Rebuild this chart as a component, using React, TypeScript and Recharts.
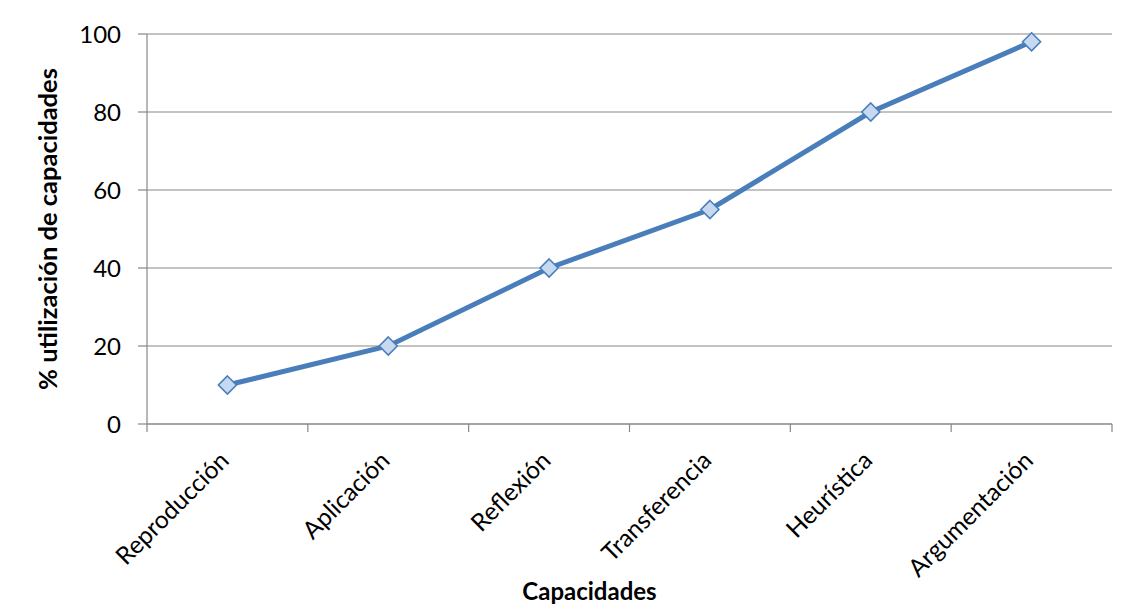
import React from 'react';
import { LineChart, Line, XAxis, YAxis, CartesianGrid, Label } from 'recharts';

const categories = ['Reproducción', 'Aplicación', 'Reflexión', 'Transferencia', 'Heurística', 'Argumentación'];
const values = [10, 20, 40, 55, 80, 98];
const yTicks = [0, 20, 40, 60, 80, 100];

const data = categories.map((name, i) => ({ name, value: values[i] }));

const FONT = 'Lato, "Open Sans", sans-serif';
const GRAY = '#878787';
const LINE = '#4a7ebb';

const Diamond = (props: any) => {
  const { cx, cy } = props;
  if (cx == null || cy == null) return null;
  const r = 9;
  return (
    <polygon
      points={`${cx},${cy - r} ${cx + r},${cy} ${cx},${cy + r} ${cx - r},${cy}`}
      fill="#c6d9f1"
      stroke={LINE}
      strokeWidth={1.6}
    />
  );
};

const XTick = (props: any) => {
  const { x, y, payload, index } = props;
  const half = payload && typeof payload.offset === 'number' ? payload.offset : 0;
  const isLast = index === categories.length - 1;
  return (
    <g>
      <line x1={x - half} x2={x - half} y1={y} y2={y + 8} stroke={GRAY} strokeWidth={1.2} />
      {isLast && <line x1={x + half} x2={x + half} y1={y} y2={y + 8} stroke={GRAY} strokeWidth={1.2} />}
      <text
        transform={`translate(${x + 3},${y + 38}) rotate(-45)`}
        textAnchor="end"
        fontFamily={FONT}
        fontSize={24.5}
        fill="#000"
      >
        {payload.value}
      </text>
    </g>
  );
};

const YTitle = (props: any) => {
  const { viewBox } = props;
  const x = viewBox.x + 39;
  const y = viewBox.y + viewBox.height / 2;
  return (
    <text
      x={x}
      y={y}
      transform={`rotate(-90, ${x}, ${y})`}
      textAnchor="middle"
      dominantBaseline="central"
      fontFamily={FONT}
      fontSize={25.5}
      fontWeight="bold"
      fill="#000"
    >
      % utilización de capacidades
    </text>
  );
};

const XTitle = (props: any) => {
  const { viewBox } = props;
  const x = viewBox.x + viewBox.width / 2 - 40;
  const y = viewBox.y + viewBox.height - 14;
  return (
    <text x={x} y={y} textAnchor="middle" fontFamily={FONT} fontSize={24} fontWeight="bold" fill="#000">
      Capacidades
    </text>
  );
};

export default function App() {
  return (
    <div style={{ position: 'relative', width: 1124, height: 606 }}>
      <div
        style={{
          position: 'absolute',
          left: -1,
          top: -1,
          width: 1125,
          height: 607,
          borderTop: `1px solid ${GRAY}`,
          borderLeft: `1px solid ${GRAY}`,
          boxSizing: 'border-box',
          pointerEvents: 'none',
        }}
      />
      <LineChart width={1124} height={606} data={data} margin={{ top: 26, right: 20, left: 0, bottom: 0 }}>
        <CartesianGrid vertical={false} stroke={GRAY} strokeWidth={1.2} />
        <XAxis
          dataKey="name"
          scale="band"
          height={190}
          axisLine={{ stroke: GRAY, strokeWidth: 1.2 }}
          tickLine={false}
          tickSize={0}
          tickMargin={0}
          interval={0}
          tick={<XTick />}
        >
          <Label content={<XTitle />} />
        </XAxis>
        <YAxis
          width={139}
          domain={[0, 100]}
          ticks={yTicks}
          tickSize={9}
          tickMargin={17}
          axisLine={{ stroke: GRAY, strokeWidth: 1.2 }}
          tickLine={{ stroke: GRAY, strokeWidth: 1.2 }}
          tick={{ fontFamily: FONT, fontSize: 24, fill: '#000' }}
        >
          <Label content={<YTitle />} />
        </YAxis>
        <Line
          type="linear"
          dataKey="value"
          stroke={LINE}
          strokeWidth={5}
          dot={<Diamond />}
          activeDot={false}
          isAnimationActive={false}
        />
      </LineChart>
    </div>
  );
}
